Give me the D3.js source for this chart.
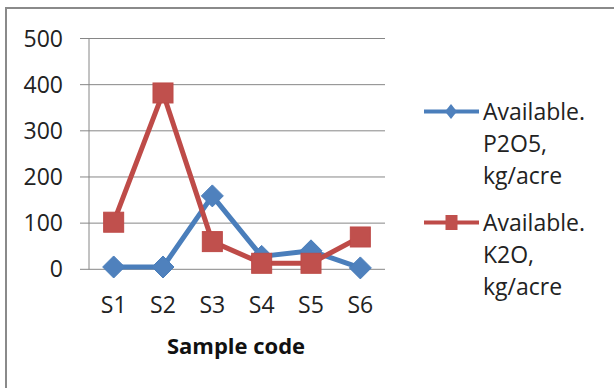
<!DOCTYPE html>
<html><head><meta charset="utf-8">
<script src="https://cdn.jsdelivr.net/npm/d3@7/dist/d3.min.js"></script>
<style>html,body{margin:0;padding:0;background:#fff;}svg{display:block;}</style>
</head><body>
<svg id="c" width="614" height="388"></svg>
<script>
const categories = ["S1","S2","S3","S4","S5","S6"];
const p2o5 = [5, 5, 159, 28, 40, 3];
const k2o = [102, 382, 60, 13, 13, 70];
const yTicks = [0, 100, 200, 300, 400, 500];
const seriesNames = [["Available.","P2O5,","kg/acre"],["Available.","K2O,","kg/acre"]];
const xTitle = "Sample code";

(function(){
const svg = d3.select("#c");
const font = "'Open Sans', sans-serif";
// outer frame
svg.append("rect").attr("x",6).attr("y",8).attr("width",640).attr("height",420)
  .attr("fill","none").attr("stroke","#8a8a8a").attr("stroke-width",2);

const pLeft = 89, pRight = 385, pTop = 38.5, pBottom = 269.3;
const x = d3.scaleBand().domain(categories).range([pLeft, pRight]);
const y = d3.scaleLinear().domain([0, 500]).range([pBottom, pTop]);

// gridlines
svg.append("g").selectAll("line").data(yTicks).join("line")
  .attr("x1", pLeft - 9).attr("x2", pRight)
  .attr("y1", d => y(d)).attr("y2", d => y(d))
  .attr("stroke", "#868686").attr("stroke-width", 1);
// y axis line
svg.append("line").attr("x1", pLeft).attr("x2", pLeft).attr("y1", pTop).attr("y2", pBottom)
  .attr("stroke", "#868686").attr("stroke-width", 1);

// y labels
svg.append("g").selectAll("text").data(yTicks).join("text")
  .attr("x", 63).attr("y", d => y(d) + 8)
  .attr("text-anchor", "end").attr("font-family", font).attr("font-size", 23).attr("fill", "#222")
  .text(d => d);
// x labels
svg.append("g").selectAll("text").data(categories).join("text")
  .attr("x", d => x(d) + x.bandwidth()/2).attr("y", 313)
  .attr("text-anchor", "middle").attr("font-family", font).attr("font-size", 23).attr("fill", "#222")
  .text(d => d);
svg.append("text").attr("x", 236).attr("y", 354).attr("text-anchor","middle")
  .attr("font-family", font).attr("font-size", 22).attr("font-weight","bold").attr("fill","#111")
  .text(xTitle);

const cx = d => x(d) + x.bandwidth()/2;
const line = d3.line().x((d,i) => cx(categories[i])).y(d => y(d));
const blue = "#4A7EBB", blueFill = "#4F81BD", red = "#BE4B48", redFill = "#C0504D";

svg.append("path").datum(p2o5).attr("d", line).attr("fill","none")
  .attr("stroke", blue).attr("stroke-width", 5).attr("stroke-linejoin","round");
svg.append("g").selectAll("path").data(p2o5).join("path")
  .attr("transform", (d,i) => `translate(${cx(categories[i])},${y(d)})`)
  .attr("d", "M0,-11L11,0L0,11L-11,0Z").attr("fill", blueFill).attr("stroke", blue).attr("stroke-width",1);

svg.append("path").datum(k2o).attr("d", line).attr("fill","none")
  .attr("stroke", red).attr("stroke-width", 5).attr("stroke-linejoin","round");
svg.append("g").selectAll("rect").data(k2o).join("rect")
  .attr("x", (d,i) => cx(categories[i]) - 10).attr("y", d => y(d) - 10)
  .attr("width", 20).attr("height", 20).attr("fill", redFill).attr("stroke", red).attr("stroke-width",1);

// legend
const leg = svg.append("g");
const legY = [111.5, 222.5];
[0,1].forEach(k => {
  const c = k === 0 ? blue : red, f = k === 0 ? blueFill : redFill;
  const g = leg.append("g").attr("transform", `translate(0,${legY[k]})`);
  g.append("line").attr("x1", 424).attr("x2", 479).attr("y1", 0).attr("y2", 0)
    .attr("stroke", c).attr("stroke-width", 4);
  if (k === 0) {
    g.append("path").attr("transform","translate(451,0)").attr("d","M0,-7.5L6,0L0,7.5L-6,0Z").attr("fill", f);
  } else {
    g.append("rect").attr("x", 445.5).attr("y", -7.5).attr("width", 12).attr("height", 15).attr("fill", f);
  }
  g.selectAll("text").data(seriesNames[k]).join("text")
    .attr("x", 483).attr("y", (d,i) => 8.5 + i*32)
    .attr("font-family", font).attr("font-size", 23).attr("fill", "#222")
    .text(d => d);
});
})();
</script>
</body></html>
